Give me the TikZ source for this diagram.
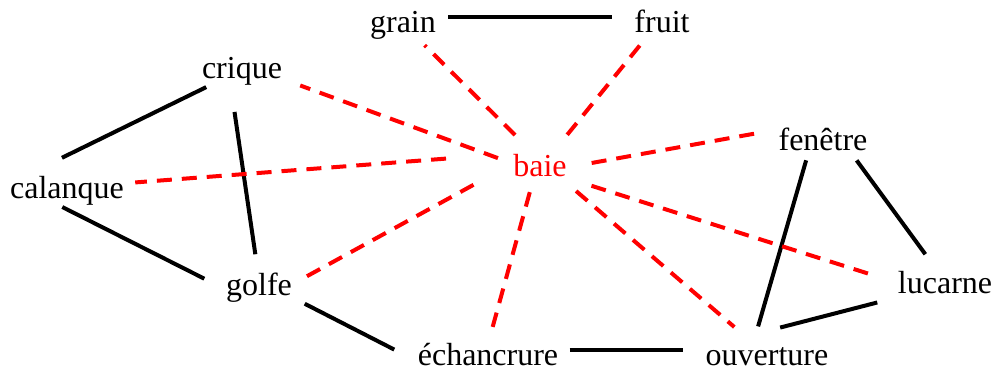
\documentclass[tikz,border=0pt]{standalone}
\usepackage{fontspec}
\setmainfont{Liberation Serif}
\begin{document}
\begin{tikzpicture}[
  x=0.5pt, y=-0.5pt,
  word/.style={anchor=base, inner sep=0pt, font=\fontsize{16}{19}\selectfont},
  tie/.style={draw=black, line width=2pt},
  sense/.style={draw=red, line width=2pt, dash pattern=on 7.5pt off 5pt}
]
  \useasboundingbox (0,0) rectangle (994,369);

  % words
  \node[word] (grain) at (403,33) {grain};
  \node[word] (fruit) at (662,33) {fruit};
  \node[word] (crique) at (242,79) {crique};
  \node[word] (calanque) at (67,198) {calanque};
  \node[word] (golfe) at (259,295) {golfe};
  \node[word] (fenetre) at (823,150) {fenêtre};
  \node[word] (lucarne) at (945,293) {lucarne};
  \node[word] (echancrure) at (488,365) {échancrure};
  \node[word] (ouverture) at (767,365) {ouverture};
  \node[word, text=red] (baie) at (540,176) {baie};

  % links between neighbours
  \draw[tie, shorten <=6pt, shorten >=11pt] (grain.15) -- (grain.15 -| fruit.west);
  \draw[tie, shorten <=1pt, shorten >=20pt] (crique.-157) -- (calanque.160);
  \draw[tie, shorten <=13pt, shorten >=9pt] (crique.-128) -- (golfe.94);
  \draw[tie, shorten <=2pt, shorten >=12pt] (calanque.-119) -- (golfe.184);
  \draw[tie, shorten <=7pt, shorten >=13pt] (golfe.-17) -- (echancrure.-174);
  \draw[tie, shorten <=5.5pt, shorten >=11pt] (echancrure.3) -- (echancrure.3 -| ouverture.west);
  \draw[tie, shorten <=10.5pt, shorten >=5pt] (ouverture.147) -- (fenetre.-140);
  \draw[tie, shorten <=38pt, shorten >=17.5pt] (ouverture.171) -- (lucarne.-161);
  \draw[tie, shorten <=6pt, shorten >=10pt] (fenetre.-24) -- (lucarne.124);

  % senses of baie
  \draw[sense, shorten <=13pt, shorten >=3.5pt] (baie.119) -- (grain.-41);
  \draw[sense, shorten <=12pt, shorten >=7.5pt] (baie.44) -- (fruit.-137);
  \draw[sense, shorten <=8pt, shorten >=9.5pt] (baie.177) -- (crique.-10);
  \draw[sense, shorten <=34pt, shorten >=5.5pt] (baie.156) -- (calanque.7);
  \draw[sense, shorten <=22.5pt, shorten >=5pt] (baie.176) -- (golfe.5);
  \draw[sense, shorten <=12.5pt, shorten >=10pt] (baie.-5) -- (fenetre.168);
  \draw[sense, shorten <=15pt, shorten >=12.5pt] (baie.-27) -- (lucarne.181);
  \draw[sense, shorten <=8pt, shorten >=8pt] (baie.-117) -- (echancrure.88);
  \draw[sense, shorten <=11pt, shorten >=15pt] (baie.-31) -- (ouverture.136);
\end{tikzpicture}
\end{document}
